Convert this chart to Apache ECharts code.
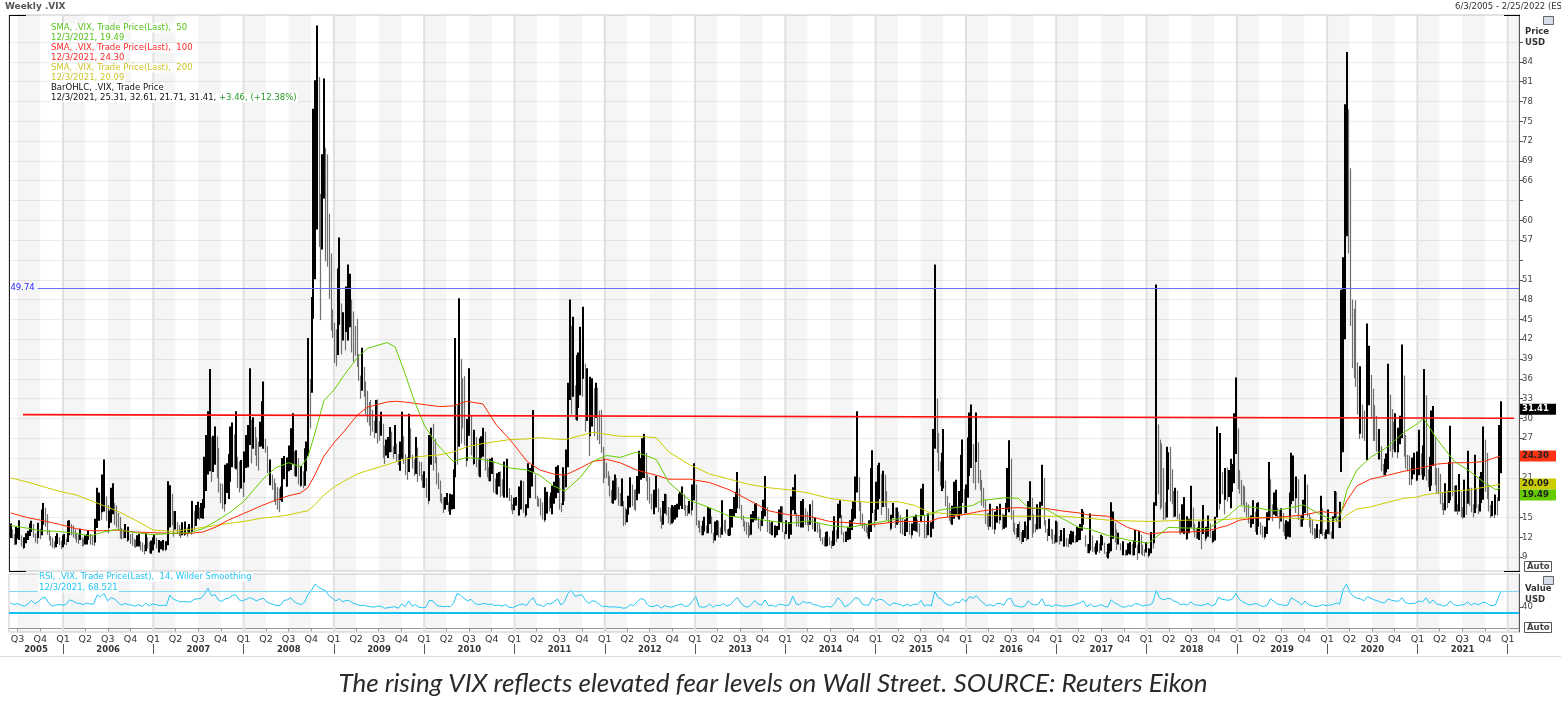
<!DOCTYPE html>
<html>
<head>
<meta charset="utf-8">
<title>Weekly .VIX</title>
<script src="https://cdn.jsdelivr.net/npm/echarts@6/dist/echarts.min.js"></script>
<style>
  html, body { margin: 0; padding: 0; background: #fff; }
  #chart { width: 1561px; height: 702px; }
</style>
</head>
<body>
<div id="chart"></div>
<script>
// weekly bars, one per Friday starting 6/3/2005
const firstWeek = [2005, 5, 3];

const weekHighs = [
  // 2005
  14.1,13.2,12.5,13.6,13.4,14.6,12.3,11.5,12.0,12.6,13.0,14.1,14.5,14.0,12.6,12.5,14.2,13.3,16.2,17.2,16.5,15.5,13.1,12.2,11.9,11.4,12.2,12.6,12.0,11.5,12.3,
  // 2006
  12.5,11.8,14.5,14.6, 14.0,13.8,13.2,12.6, 12.5,13.3,12.0,11.8,12.3, 12.5,13.1,12.5,12.3, 12.3,14.8,19.5,18.8, 18.6,21.5,23.8,18.2,16.9, 16.1,19.5,20.2,17.2, 16.8,15.7,15.1,13.4, 13.2,14.0,13.1,13.6,12.5, 12.6,11.8,11.6,12.3, 12.5,11.4,11.2,10.9, 12.6,12.0,11.3,11.5,12.0,
  // 2007
  12.4,11.9,11.0,11.6, 11.4,11.6,11.4,11.4, 20.5,19.9,18.6,16.0,16.0, 14.3,13.9,13.3,14.3, 13.8,14.4,13.5,14.0, 13.9,17.5,16.0,16.9,17.4, 16.5,17.2,17.8,24.2, 27.5,31.1,37.5,27.2,27.4, 28.8,27.3,25.5,20.2, 20.1,19.7,23.0,23.2, 24.6,28.8,29.4,27.6,31.1, 24.2,23.5,23.7,21.4,
  // 2008
  25.0,27.5,29.0,37.6, 29.8,30.2,28.7,27.1,26.5, 29.5,32.6,35.6,26.9, 25.8,23.2,23.8,21.5, 20.9,20.2,19.6,19.4,19.7, 24.0,24.3,22.6,24.1, 25.9,28.5,30.8,25.0, 25.2,24.0,21.8,22.8,22.0, 25.5,26.5,42.2,36.0, 48.4,76.9,81.2,89.5,81.7, 64.0,70.0,81.5,71.0, 70.0,61.0,55.0,46.5,
  // 2009
  44.5,43.5,52.7,57.4,47.4, 46.1,46.5,50.0,53.3, 51.9,48.0,46.2,44.0, 45.1,39.8,36.5,40.7, 37.8,35.6,34.2,32.5,32.8, 31.3,29.7,32.8,32.9, 29.6,31.0,29.2,25.9,26.8, 27.2,28.7,28.0,25.8, 29.0,26.2,24.6,26.5, 31.0,27.3,24.6,24.2,30.7, 28.5,24.5,23.8,27.2, 25.6,23.5,23.4,21.5,
  // 2010
  22.0,21.0,18.7,27.5,28.6, 29.2,26.9,24.2,21.8, 20.6,18.6,18.0,18.1, 18.7,17.3,18.6,18.5,22.3, 42.2,32.0,48.2,39.0, 36.1,36.4,27.1,29.9, 37.6,30.5,27.8,28.3,27.2, 24.1,27.0,27.3,28.6, 28.0,23.9,22.6,23.9, 24.1,23.5,20.9,21.7,21.9, 22.0,20.8,23.5,22.6, 23.9,19.5,18.4,17.0,18.0,
  // 2011
  18.1,17.6,19.7,20.6, 20.5,16.4,17.0,23.2, 22.5,23.0,31.3,21.5, 18.3,17.9,17.9,17.3,15.9, 19.6,18.9,18.2,18.8, 19.8,20.4,22.7,22.9, 21.0,17.2,22.6,21.6,25.3, 35.4,48.0,44.0,45.4, 35.0,39.6,40.0,43.9,42.5, 46.9,38.3,37.6,35.1, 36.3,36.1,34.6,35.4, 34.7,31.2,31.3,25.7,24.0,
  // 2012
  23.3,22.0,21.3,19.2, 20.6,21.5,21.0,19.6, 18.7,20.9,17.5,16.5,16.2, 18.3,21.1,20.0,19.2, 19.3,21.3,25.1,24.0, 27.0,27.7,24.8,21.6,21.1, 18.6,18.4,19.2,21.3, 19.4,16.5,15.2,17.5,18.6, 18.5,16.6,16.5,16.9, 16.7,16.9,17.1,18.6, 18.9,19.7,18.5,16.9,16.8, 17.5,17.4,20.0,23.2,
  // 2013
  20.0,14.6,14.5,13.7, 14.5,15.1,13.8,16.6, 16.4,15.2,12.7,14.4,14.6, 14.5,13.5,17.6,14.6, 14.7,13.2,13.3,16.3,16.3, 18.1,18.9,21.9,19.4, 16.9,15.3,14.5,14.3, 14.3,13.8,15.5,16.0,17.1, 17.2,15.1,14.7,16.0, 17.7,21.3,16.6,14.6, 14.2,14.4,13.8,13.8,13.7, 16.2,16.7,16.7,12.9,
  // 2014
  14.6,13.8,14.3,18.2,19.6, 21.5,15.7,15.4,15.3, 17.5,17.8,16.4,15.9, 14.5,17.0,17.6,14.5, 15.0,14.3,14.1,13.3,12.0, 12.1,12.8,12.9,12.1, 11.5,13.0,15.2,13.1, 17.1,17.6,15.4,12.8,12.4, 12.9,13.6,14.6,16.3, 17.5,21.2,31.1,21.1,17.4, 15.6,14.2,14.0,13.6, 14.6,22.5,25.2,16.2,
  // 2015
  20.4,22.9,23.3,21.6,22.1, 21.5,19.0,16.4,14.6, 15.4,17.2,16.5,16.5, 15.9,15.4,14.9,13.7, 14.7,16.2,14.2,13.3,14.1, 15.2,15.4,14.7,14.1, 19.4,20.1,15.4,14.0,15.6, 14.0,14.3,28.4,53.3, 33.0,27.8,23.5,24.8, 28.4,20.6,18.3,17.2,16.0, 16.8,20.4,20.7,16.7, 19.0,24.5,26.8,19.3,
  // 2016
  20.0,27.1,30.9,32.1,26.1, 25.2,30.9,26.4,22.2, 20.7,19.5,17.7,15.7, 15.7,17.1,16.4,13.9,15.9, 16.7,16.3,17.1,15.6, 15.4,17.2,22.5,26.7, 23.9,16.1,14.2,13.4,14.0, 14.4,12.8,13.1,14.4, 13.8,17.5,20.5,18.0,15.5, 14.0,17.0,16.3,17.4, 23.0,21.0,14.6,13.3, 14.8,13.3,13.2,12.4,14.5,
  // 2017
  14.3,12.2,13.1,12.4, 13.4,11.9,11.8,12.5, 13.0,12.9,12.3,13.6,13.4, 14.0,16.3,15.9,12.3, 11.0,11.0,15.6,12.3, 10.6,11.1,11.5,11.1,12.4, 12.2,11.2,9.8,11.0, 11.1,17.3,15.9,14.2, 13.2,12.7,11.1,10.6,11.4, 10.1,10.1,11.1,11.3, 11.0,11.6,13.1,10.9, 13.0,12.4,10.9,10.2,11.3,
  // 2018
  10.4,10.3,12.8,11.6, 17.3,50.3,29.1,26.8, 26.2,22.5,17.3,25.7,24.9, 25.7,22.3,19.0,19.5, 19.1,15.6,14.6,17.0, 18.1,13.8,15.2,14.8,19.8, 16.5,14.1,13.3,13.5, 14.4,14.4,16.9,13.3,13.6, 15.3,14.1,12.9,13.0, 15.1,28.8,22.5,27.8, 21.9,20.3,22.5,22.6,22.2, 23.9,23.1,30.8,36.2,
  // 2019
  28.5,22.2,20.7,19.9, 19.7,17.3,17.0,15.0, 15.3,17.6,15.9,17.2,17.3, 14.3,13.8,12.8,13.6, 15.8,23.4,20.8,17.0,18.8, 19.2,16.5,16.1,16.4, 15.7,14.1,14.6,14.4, 18.8,24.8,24.4,20.9,21.2, 20.8,15.3,15.3,17.7, 21.5,20.0,15.5,15.0, 14.7,13.4,13.3,14.0,13.2, 18.3,16.4,12.8,13.2,
  // 2020
  16.2,14.6,12.9,15.2,19.0, 18.9,15.2,17.4,49.5, 54.4,77.6,85.5,76.8, 67.9,48.0,46.6,47.9, 38.5,37.2,37.9,32.1,31.2, 29.5,44.4,41.0,36.6, 34.5,32.0,30.4,27.6,28.4, 25.8,23.1,23.9,24.7, 38.3,33.6,31.4,29.5, 30.8,27.9,28.6,30.4,41.2, 36.5,27.5,24.5,24.4, 22.9,24.1,24.8,24.4,
  // 2021
  25.0,28.3,24.7,25.9,37.5, 33.5,22.3,24.2,31.2, 31.9,27.2,22.5,22.5, 21.6,18.8,17.2,20.2,19.1, 23.4,28.9,23.3,19.8, 19.9,17.0,21.6,18.9, 16.6,20.7,19.1,25.1,19.5, 19.5,17.0,24.5,19.4, 17.0,21.2,21.9,28.8, 26.8,24.8,20.0,16.9,17.5, 17.1,18.5,18.1,29.0, 32.61
];

const weekLows = [
  // 2005
  11.9,11.8,10.8,10.9,11.8,11.6,10.6,10.2,10.4,11.1,11.6,12.2,12.8,12.0,11.2,11.0,11.9,11.7,12.3,13.9,13.6,12.4,11.5,10.7,10.4,10.3,10.5,11.0,10.8,10.2,10.5,
  // 2006
  10.9,10.8,11.3,12.3, 12.3,12.0,11.7,11.2, 11.0,11.6,10.6,10.7,10.9, 10.9,11.6,10.9,10.8, 10.7,11.2,13.4,14.5, 14.6,15.8,15.9,14.5,12.6, 13.4,14.2,15.5,13.9, 13.5,13.2,11.8,11.7, 11.8,11.9,11.3,11.5,11.0, 10.7,10.5,10.4,10.6, 10.6,10.0,9.8,9.4, 9.9,10.3,9.6,9.5,10.0,
  // 2007
  10.9,10.3,9.8,9.7, 10.2,10.0,9.9,10.1, 10.8,13.5,13.8,12.1,13.2, 12.6,12.2,11.9,12.3, 12.2,12.4,12.1,12.6, 12.4,12.8,13.1,13.7,14.8, 14.6,14.9,14.8,16.4, 19.0,21.5,22.0,20.4,21.9, 23.0,21.0,18.8,17.2, 16.3,15.9,17.0,18.7, 17.8,20.4,22.6,22.5,22.3, 19.5,18.8,19.4,18.1,
  // 2008
  20.3,22.5,22.6,26.0, 23.2,25.4,24.4,22.8,22.1, 25.7,25.8,25.4,24.8, 21.7,20.4,19.9,19.2, 17.4,16.9,16.2,15.8,17.6, 17.4,20.8,19.6,19.7, 22.0,22.2,23.1,21.3, 21.2,20.0,19.6,19.8,19.4, 19.8,22.0,24.3,28.5, 33.9,45.1,51.1,58.6,56.0, 44.9,55.6,63.3,53.8, 53.0,48.1,43.3,42.2,
  // 2009
  38.4,37.9,39.6,44.2,39.7, 41.8,40.3,43.1,41.8, 43.8,40.0,38.6,39.5, 37.8,35.7,33.0,34.2, 33.3,30.6,29.4,28.9,27.4, 28.0,27.0,27.8,26.2, 26.6,27.4,24.0,23.1,24.4, 24.0,24.9,24.9,23.9, 24.6,23.5,22.9,22.1, 23.9,23.1,21.4,20.7,21.9, 23.9,22.4,21.3,21.6, 20.4,21.3,20.6,19.5,
  // 2010
  19.5,18.0,17.0,17.5,23.0, 22.1,23.2,20.0,19.3, 17.4,17.1,15.7,16.2, 16.9,15.9,15.4,16.2,16.3, 21.1,23.0,25.7,26.2, 28.5,25.9,22.7,23.6, 27.4,24.4,22.9,23.1,22.6, 21.3,21.1,24.0,24.2, 22.1,21.1,20.5,20.5, 21.6,18.8,18.6,18.5,19.7, 18.1,18.3,18.0,18.7, 18.0,17.5,16.1,15.5,16.1,
  // 2011
  16.8,15.3,15.3,16.2, 15.7,15.0,15.3,16.4, 17.9,19.7,21.9,17.8, 16.7,16.6,15.3,14.7,14.3, 14.6,15.6,15.9,16.4, 15.5,17.1,17.9,18.7, 16.2,15.8,16.9,17.5,19.6, 22.6,32.8,30.6,33.3, 29.8,29.7,31.6,33.5,33.3, 36.0,28.0,29.6,24.3, 27.3,28.8,27.3,30.1, 26.7,26.1,24.8,20.2,20.9,
  // 2012
  21.0,19.8,18.2,17.2, 17.1,17.6,17.8,16.8, 16.7,16.7,13.7,13.9,14.3, 15.4,16.5,16.7,16.2, 16.0,17.6,18.6,20.7, 21.0,21.0,20.5,17.6,17.1, 16.2,16.3,15.5,16.5, 15.8,14.4,13.3,13.9,15.6, 15.3,14.1,13.9,14.1, 14.3,14.7,15.0,16.2, 16.8,16.3,16.1,15.2,15.2, 15.6,15.3,16.1,17.6,
  // 2013
  13.8,13.4,12.7,12.3, 12.3,12.9,12.6,12.6, 14.0,12.6,11.1,11.5,12.3, 12.0,11.9,12.4,12.9, 12.6,12.3,12.2,12.3,13.5, 15.2,15.7,16.4,16.3, 14.6,13.6,12.9,12.4, 11.9,12.2,12.4,14.3,14.6, 14.6,13.3,12.9,13.7, 14.8,15.2,12.8,12.5, 12.5,12.3,11.9,12.0,12.3, 13.1,14.3,12.8,11.7,
  // 2014
  12.5,12.1,11.8,12.4,16.1, 15.5,13.6,13.6,13.6, 13.5,13.5,13.9,13.8, 12.9,13.9,13.2,12.9, 12.9,12.7,11.9,11.4,10.9, 10.6,10.6,10.7,10.8, 10.3,10.7,10.8,11.3, 11.8,14.9,12.4,11.2,11.4, 11.3,11.6,11.7,13.1, 14.5,14.8,18.8,16.0,13.9, 13.3,12.9,12.7,12.1, 11.8,12.8,15.7,13.5,
  // 2015
  14.5,16.2,17.8,15.4,16.6, 16.6,14.6,14.2,13.0, 13.3,14.9,13.4,13.9, 14.1,12.6,12.4,12.2, 12.2,12.8,12.4,11.8,12.3, 13.0,12.9,12.7,12.1, 14.3,15.3,11.8,11.9,12.3, 12.1,12.0,13.3,25.4, 24.8,22.0,19.8,19.0, 19.4,16.7,15.0,14.5,14.1, 13.9,14.8,15.4,15.0, 14.7,15.5,17.2,15.5,
  // 2016
  15.7,18.0,21.3,22.5,20.2, 19.2,23.4,20.2,19.1, 16.8,16.5,14.0,13.6, 13.1,13.6,13.2,12.5,13.2, 14.2,14.0,14.6,13.1, 13.3,13.5,16.2,15.8, 14.7,12.8,12.4,11.8,12.0, 11.5,11.0,11.3,11.9, 11.5,11.7,14.6,12.0,12.6, 12.8,13.2,13.3,13.3, 16.8,13.8,12.7,11.4, 12.2,11.7,11.0,11.0,11.2,
  // 2017
  11.3,10.9,11.4,10.6, 10.6,10.6,10.5,11.0, 10.9,11.2,11.1,11.3,11.5, 11.6,13.0,13.9,10.6, 9.6,9.6,10.0,9.8, 9.7,9.4,9.8,9.6,10.0, 10.8,9.5,9.0,8.8, 9.6,9.9,11.8,11.2, 10.1,10.9,10.0,9.4,9.3, 9.2,9.3,9.5,9.4, 9.2,9.3,10.4,8.6, 9.6,9.4,9.2,9.1,9.7,
  // 2018
  8.9,9.2,9.6,10.3, 11.1,16.8,18.5,16.2, 16.5,14.6,14.7,15.0,19.2, 17.4,17.0,15.0,15.1, 14.7,12.6,12.4,12.7, 12.5,11.6,11.7,12.6,13.5, 13.0,12.0,11.8,11.8, 11.6,10.2,12.5,11.4,11.8, 12.1,11.9,11.1,11.3, 11.5,15.0,16.2,17.1, 18.5,15.5,17.7,17.4,18.1, 16.4,18.9,20.2,24.6,
  // 2019
  19.3,18.6,16.9,16.9, 15.8,15.1,14.1,13.5, 13.5,14.0,12.8,12.4,13.6, 12.4,12.0,11.7,12.0, 12.5,14.6,15.0,14.4,15.4, 15.2,14.9,13.3,14.4, 12.8,12.2,11.7,12.1, 12.0,17.0,17.5,15.7,17.9, 14.6,13.6,13.6,14.6, 15.7,15.1,13.5,12.6, 12.3,11.8,11.7,11.9,11.8, 12.5,12.2,11.7,11.8,
  // 2020
  12.5,12.4,11.8,11.8,14.9, 14.3,13.4,13.4,21.9, 24.9,42.0,57.6,55.0, 44.0,37.6,36.1,34.8, 30.6,26.9,27.7,27.0,26.6, 24.5,23.7,32.0,30.0, 26.6,26.6,25.0,23.9,23.8, 22.0,21.4,21.4,21.8, 22.3,25.0,24.1,25.3, 24.9,24.0,24.9,26.1,27.0, 24.2,22.4,22.0,19.9, 19.9,20.8,21.5,20.5,
  // 2021
  20.6,21.4,21.4,20.7,21.2, 20.6,19.6,19.0,19.8, 22.8,19.9,18.6,18.5, 17.0,16.1,15.4,16.1,16.4, 17.2,17.6,18.2,15.9, 15.9,15.4,15.9,15.1, 14.8,15.0,15.4,17.1,16.8, 15.8,15.0,15.7,16.4, 15.5,15.9,17.2,17.7, 18.9,17.8,15.9,14.9,15.2, 14.9,15.4,15.3,17.5, 21.71
];

// moving averages at sample dates (decimal years)
const smaYears = [
  2005.42,2005.60,2005.75,2005.95,2006.15,2006.30,2006.45,2006.60,2006.80,2007.00,2007.20,2007.40,2007.55,2007.70,2007.83,
  2008.00,2008.20,2008.35,2008.50,2008.63,2008.71,2008.78,2008.89,2009.00,2009.11,2009.26,2009.37,2009.59,2009.68,2009.78,2009.89,
  2010.00,2010.11,2010.17,2010.32,2010.47,2010.65,2010.80,2010.95,2011.14,2011.28,2011.43,2011.56,2011.73,2011.87,
  2012.02,2012.17,2012.35,2012.57,2012.71,2012.94,2013.16,2013.38,2013.60,2013.82,2014.04,2014.26,2014.49,2014.71,2014.96,
  2015.25,2015.44,2015.60,2015.70,2015.88,2016.07,2016.18,2016.44,2016.58,2016.69,2016.88,2017.06,2017.25,2017.35,2017.57,2017.79,
  2018.02,2018.24,2018.46,2018.68,2018.90,2019.03,2019.20,2019.42,2019.60,2019.74,2019.93,2020.08,2020.15,2020.22,2020.33,2020.48,
  2020.67,2020.85,2021.00,2021.07,2021.22,2021.41,2021.59,2021.74,2021.87,2021.92
];
const sma50 = [
  13.8,13.4,13.0,12.9,12.6,12.2,12.8,13.2,12.7,12.4,12.6,12.7,13.3,14.5,15.6,
  17.4,20.6,22.5,23.3,22.7,24.1,27.3,32.7,34.3,36.5,39.2,40.6,41.5,40.8,37.1,32.7,
  29.0,26.7,25.7,23.5,24.1,23.8,23.3,22.5,22.2,21.4,19.8,19.0,21.1,23.5,
  24.4,24.1,24.9,23.8,20.3,17.6,16.5,15.2,14.9,14.5,14.1,14.5,13.8,13.5,14.1,
  14.8,15.2,15.4,16.1,16.5,16.8,17.6,18.0,17.9,16.5,16.3,14.9,13.5,13.3,12.3,11.6,
  11.1,13.5,13.4,13.3,15.2,16.8,16.5,16.0,16.5,16.9,15.4,14.6,15.4,19.2,22.2,24.1,
  25.7,27.9,29.2,30.0,26.8,23.5,21.9,20.3,19.2,19.49
];
const sma100 = [
  15.7,15.0,14.6,14.0,13.3,13.0,13.0,13.1,12.8,12.7,12.6,12.6,12.8,13.6,14.6,
  15.6,16.8,17.6,18.3,18.7,19.5,21.2,24.3,26.3,28.0,30.5,31.7,32.5,32.6,32.5,32.3,
  32.1,31.9,31.8,31.9,32.6,32.2,29.0,26.8,23.5,22.2,21.6,21.4,22.5,23.5,
  23.8,23.3,22.2,21.4,20.8,20.8,20.3,19.2,17.6,16.0,15.4,15.2,14.4,14.2,13.9,
  14.4,14.4,14.4,14.9,15.2,15.7,16.0,16.4,16.5,16.4,16.4,16.0,15.7,15.4,15.2,13.5,
  12.5,12.8,12.8,13.0,13.8,14.6,14.9,15.0,15.2,15.4,15.9,15.7,15.7,17.6,19.8,20.8,
  21.4,22.0,22.4,22.6,23.1,23.3,23.3,23.5,24.1,24.30
];
const sma200 = [
  21.0,20.4,19.8,19.0,18.4,17.6,16.8,16.0,14.6,13.1,12.9,13.2,13.5,13.8,14.1,
  14.4,14.9,15.1,15.4,15.8,16.0,16.8,18.4,19.6,20.5,21.6,22.1,23.0,23.4,23.8,24.1,
  24.3,24.4,24.5,24.9,25.7,26.2,26.5,26.8,26.9,27.1,26.9,26.8,27.4,27.9,
  27.6,27.3,27.3,27.1,24.9,23.0,21.6,20.8,20.0,19.5,19.2,18.7,17.9,17.5,17.3,
  17.4,16.8,15.7,15.7,15.4,15.5,15.4,15.2,15.2,15.2,15.2,15.2,15.0,14.9,14.6,14.5,
  14.4,14.5,14.6,14.6,14.7,14.9,15.0,15.0,14.9,14.8,14.5,14.4,14.5,15.4,16.3,16.6,
  17.3,17.9,18.1,18.4,18.7,19.0,19.2,19.6,19.9,20.09
];

// RSI(14, Wilder) read every second week from the first bar, plus the last bar
const rsiValues = [
  48,45,47,44,42,46,53,47,50,57,59,48,42,44,45,44,
  45,54,52,48,47,45,48,46,46,63,60,66,52,58,56,49,44,47,45,44,42,45,41,48,43,46,
  45,43,44,43,63,55,53,50,51,50,50,55,56,57,65,76,62,64,54,51,56,57,62,64,54,52,
  55,58,56,52,55,57,50,47,45,43,44,53,54,58,50,47,45,50,65,73,84,78,74,72,62,57,
  52,56,50,53,52,47,46,43,44,42,41,40,42,42,38,39,40,41,38,46,41,52,42,45,40,39,
  40,53,52,44,42,41,42,41,48,66,63,57,52,55,48,45,46,47,45,46,43,44,42,45,40,39,
  42,45,46,43,52,58,45,44,41,47,46,50,56,44,50,66,72,61,62,64,54,47,52,51,46,41,
  42,40,41,40,40,38,39,45,43,50,56,55,45,41,42,44,38,43,41,40,42,45,46,41,43,52,
  60,41,40,41,46,40,44,43,47,42,45,52,59,48,42,40,45,53,46,44,54,43,44,41,46,45,
  43,45,61,46,45,51,48,49,45,44,41,40,42,40,46,58,52,41,44,50,58,57,46,44,44,58,
  52,55,54,48,43,48,47,45,42,46,42,46,45,53,42,45,42,70,58,55,47,44,44,50,48,56,
  50,60,57,62,54,48,43,45,42,47,47,44,55,57,43,42,40,42,52,46,44,46,56,43,44,41,45,
  43,42,42,43,44,46,48,52,41,46,41,42,45,42,40,54,48,45,41,40,43,42,47,46,42,44,
  44,48,72,58,54,56,57,52,50,45,46,44,50,45,44,43,45,47,43,45,59,55,54,53,56,66,
  55,50,47,44,46,47,43,41,44,56,51,46,45,43,44,58,54,50,44,52,45,43,41,42,45,43,
  44,45,48,46,74,84,68,60,57,56,52,60,57,54,52,49,48,56,53,52,51,58,49,47,47,48,
  52,50,58,47,54,46,45,42,44,52,45,43,44,45,50,44,48,44,48,50,45,43,44,60
];
const rsiLast = 68.521;

// last values shown in the legend and on the price axis
const markerNames = ['close', 'sma100', 'sma200', 'sma50'];
const markerValues = [31.41, 24.30, 20.09, 19.49];

// drawn levels
const levelLine = 49.74;
const levelFrom = 2005.72;
const trendFrom = [2005.557, 30.58];
const trendTo = [2022.07, 30.03];

// axes
const priceTicks = [9,12,15,18,21,24,27,30,33,36,39,42,45,48,51,54,57,60,63,66,69,72,75,78,81,84,87];
const priceLabels = [9,12,15,18,21,27,30,33,36,39,42,45,48,51,57,60,66,69,72,75,78,81,84];
const years = [2005,2006,2007,2008,2009,2010,2011,2012,2013,2014,2015,2016,2017,2018,2019,2020,2021,2022];
const quarterMonths = [0, 3, 6, 9];
const xMin = 2005.402, xMax = 2022.125;

if (weekHighs.length !== weekLows.length) throw new Error('bars: ' + weekHighs.length + ' vs ' + weekLows.length);

const DAY = 86400000;
const startMs = Date.UTC(firstWeek[0], firstWeek[1], firstWeek[2]);
function yearFrac(ms) {
  const y = new Date(ms).getUTCFullYear();
  const a = Date.UTC(y, 0, 1), b = Date.UTC(y + 1, 0, 1);
  return y + (ms - a) / (b - a);
}
const weekX = (i) => yearFrac(startMs + i * 7 * DAY);

const barData = weekHighs.map((h, i) => {
  const lo = weekLows[i];
  const prev = i ? weekHighs[i - 1] + weekLows[i - 1] : h + lo;
  return [weekX(i), lo, h, h + lo >= prev ? 1 : 0];
});
const rsiData = rsiValues.map((v, k) => [weekX(k * 2), v]);
rsiData.push([weekX(weekHighs.length - 1), rsiLast]);

const bands = [];
years.forEach((y) => {
  bands.push([yearFrac(Date.UTC(y, 0, 1)), yearFrac(Date.UTC(y, 3, 1))]);
  bands.push([yearFrac(Date.UTC(y, 6, 1)), yearFrac(Date.UTC(y, 9, 1))]);
});
const yearStarts = years.slice(1).map((y) => [y]);
const quarterTicks = [];
years.forEach((y) => quarterMonths.forEach((m) => {
  const v = yearFrac(Date.UTC(y, m, 1));
  if (v > xMin && v <= 2022.0001) quarterTicks.push(v);
}));
const yearLabelPos = years.slice(0, -1).map((y) => (y === 2005 ? (xMin + 2006) / 2 : y + 0.5));

const FONT = 'DejaVu Sans';
const bandRender = (params, api) => {
  const cs = params.coordSys;
  const a = Math.max(api.coord([api.value(0), 50])[0], cs.x);
  const b = Math.min(api.coord([api.value(1), 50])[0], cs.x + cs.width);
  if (b <= a) return null;
  return { type: 'rect', shape: { x: a, y: cs.y, width: b - a, height: cs.height }, style: { fill: 'rgba(0,0,0,0.04)' } };
};
const yearLineRender = (params, api) => {
  const cs = params.coordSys;
  const x = api.coord([api.value(0), 50])[0];
  return { type: 'rect', shape: { x: x - 1, y: cs.y, width: 2, height: cs.height }, style: { fill: '#e0e0e0' } };
};
// up weeks are drawn as heavy black bars, down weeks as thin grey ones
const barRender = (params, api) => {
  const x = api.value(0);
  const top = api.coord([x, api.value(2)]);
  const bot = api.coord([x, api.value(1)]);
  const up = api.value(3);
  const px = up ? Math.round(top[0]) : Math.round(top[0]) + 0.5;
  return {
    type: 'line',
    shape: { x1: px, y1: top[1], x2: px, y2: bot[1] },
    style: { stroke: up ? '#000' : '#6e6e6e', lineWidth: up ? 2 : 1.2 }
  };
};
const smaLine = (name, values, color) => ({
  name, type: 'line', xAxisIndex: 0, yAxisIndex: 0, z: 4,
  data: smaYears.map((x, i) => [x, values[i]]),
  showSymbol: false, symbol: 'none', silent: true,
  lineStyle: { color, width: 1 }
});

const chart = echarts.init(document.getElementById('chart'));
const option = {
  animation: false,
  textStyle: { fontFamily: FONT },
  grid: [
    { left: 9, right: 42, top: 15, height: 556, show: true, borderColor: '#c8c8c8', borderWidth: 1 },
    { left: 9, right: 42, top: 574, height: 58, show: true, borderColor: '#c8c8c8', borderWidth: 1 }
  ],
  xAxis: [
    { gridIndex: 0, type: 'value', min: xMin, max: xMax, show: false },
    {
      gridIndex: 1, type: 'value', min: xMin, max: xMax,
      axisLine: { show: true, lineStyle: { color: '#999' } },
      axisTick: { show: true, length: 3, customValues: quarterTicks, lineStyle: { color: '#999' } },
      axisLabel: {
        customValues: quarterTicks, margin: 3, color: '#333', fontSize: 9.5, fontFamily: FONT,
        formatter: (v) => 'Q' + ((Math.round((v - Math.floor(v + 1e-6)) * 4) % 4) + 1)
      },
      splitLine: { show: false }
    },
    {
      gridIndex: 1, type: 'value', min: xMin, max: xMax, position: 'bottom', offset: 12,
      axisLine: { show: false },
      axisTick: { show: true, length: 10, customValues: years.slice(1), lineStyle: { color: '#555' } },
      axisLabel: {
        customValues: yearLabelPos, margin: 1, color: '#333', fontSize: 8.5, fontWeight: 'bold', fontFamily: FONT,
        formatter: (v) => String(Math.floor(v))
      },
      splitLine: { show: false }
    }
  ],
  yAxis: [
    {
      gridIndex: 0, type: 'value', position: 'right', min: 6.9, max: 91.1,
      axisLine: { show: true, lineStyle: { color: '#555' } },
      axisTick: { show: true, length: 4, customValues: priceTicks, lineStyle: { color: '#555' } },
      axisLabel: { customValues: priceLabels, margin: 3, color: '#444', fontSize: 8.5, fontFamily: FONT },
      splitLine: { show: true, lineStyle: { color: '#ececec', width: 1 } }
    },
    {
      gridIndex: 1, type: 'value', position: 'right', min: -7, max: 103,
      axisLine: { show: true, lineStyle: { color: '#555' } },
      axisTick: { show: true, length: 4, customValues: [40], lineStyle: { color: '#555' } },
      axisLabel: { customValues: [40], margin: 3, color: '#444', fontSize: 8.5, fontFamily: FONT },
      splitLine: { show: false }
    }
  ],
  series: [
    { type: 'custom', xAxisIndex: 0, yAxisIndex: 0, z: 1, silent: true, data: bands, encode: { x: [0, 1] }, renderItem: bandRender },
    { type: 'custom', xAxisIndex: 0, yAxisIndex: 0, z: 1, silent: true, data: yearStarts, encode: { x: 0 }, renderItem: yearLineRender },
    { type: 'custom', xAxisIndex: 1, yAxisIndex: 1, z: 1, silent: true, data: bands, encode: { x: [0, 1] }, renderItem: bandRender },
    { type: 'custom', xAxisIndex: 1, yAxisIndex: 1, z: 1, silent: true, data: yearStarts, encode: { x: 0 }, renderItem: yearLineRender },
    {
      name: 'BarOHLC', type: 'custom', xAxisIndex: 0, yAxisIndex: 0, z: 3, silent: true,
      data: barData, encode: { x: 0, y: [1, 2] }, renderItem: barRender
    },
    Object.assign(smaLine('SMA 200', sma200, '#cccc00'), {
      markLine: {
        silent: true, symbol: ['none', 'none'], animation: false,
        data: [
          [
            { coord: [levelFrom, levelLine], lineStyle: { color: '#6a6aff', width: 1, type: 'solid' },
              label: { show: true, position: 'start', distance: 3, formatter: levelLine.toFixed(2), color: '#2a2aff', fontSize: 8.5, fontFamily: FONT } },
            { coord: [xMax, levelLine] }
          ],
          [
            { coord: trendFrom, lineStyle: { color: '#ff1010', width: 1.6, type: 'solid' }, label: { show: false } },
            { coord: trendTo }
          ]
        ]
      }
    }),
    smaLine('SMA 100', sma100, '#ff2a00'),
    smaLine('SMA 50', sma50, '#66cc00'),
    {
      name: 'RSI', type: 'line', xAxisIndex: 1, yAxisIndex: 1, z: 4, data: rsiData,
      showSymbol: false, symbol: 'none', silent: true,
      lineStyle: { color: '#22c4f4', width: 1 },
      markLine: {
        silent: true, symbol: ['none', 'none'], animation: false, label: { show: false },
        data: [
          { yAxis: 70, lineStyle: { color: '#7fd8f6', width: 1, type: 'solid' } },
          { yAxis: 30, lineStyle: { color: '#10c0f0', width: 2, type: 'solid' } }
        ]
      }
    }
  ]
};
chart.setOption(option);

// texts and on-axis value tags
const txt = (x, y, text, fill, font, extra) => Object.assign({
  type: 'text', x, y, silent: true, z: 100,
  style: Object.assign({ text, fill, font: font || ('8.5px ' + FONT), verticalAlign: 'middle', align: 'left' }, extra || {})
});
const legendBg = { backgroundColor: '#fff', padding: [0, 1] };
const graphics = [
  txt(5, 7, 'Weekly .VIX', '#555', 'bold 9px ' + FONT),
  txt(1455, 7, '6/3/2005 - 2/25/2022 (EST)', '#333'),
  { type: 'line', silent: true, z: 90, shape: { x1: 9.5, y1: 15, x2: 9.5, y2: 571 }, style: { stroke: '#222', lineWidth: 1 } },
  { type: 'line', silent: true, z: 90, shape: { x1: 9, y1: 15.5, x2: 26, y2: 15.5 }, style: { stroke: '#000', lineWidth: 1 } },
  { type: 'line', silent: true, z: 90, shape: { x1: 1504, y1: 15.5, x2: 1520, y2: 15.5 }, style: { stroke: '#000', lineWidth: 1 } },
  { type: 'line', silent: true, z: 90, shape: { x1: 9, y1: 571.5, x2: 26, y2: 571.5 }, style: { stroke: '#000', lineWidth: 1 } },
  { type: 'line', silent: true, z: 90, shape: { x1: 1504, y1: 571.5, x2: 1520, y2: 571.5 }, style: { stroke: '#000', lineWidth: 1 } },
  { type: 'line', silent: true, z: 90, shape: { x1: 0, y1: 656.5, x2: 1561, y2: 656.5 }, style: { stroke: '#dcdcdc', lineWidth: 1 } },
  txt(50, 28, 'SMA, .VIX, Trade Price(Last),  50', '#55c21b', null, legendBg),
  txt(50, 38, '12/3/2021, ' + markerValues[3].toFixed(2), '#55c21b', null, legendBg),
  txt(50, 48, 'SMA, .VIX, Trade Price(Last),  100', '#ff2a2a', null, legendBg),
  txt(50, 58, '12/3/2021, ' + markerValues[1].toFixed(2), '#ff2a2a', null, legendBg),
  txt(50, 68, 'SMA, .VIX, Trade Price(Last),  200', '#cfc52a', null, legendBg),
  txt(50, 78, '12/3/2021, ' + markerValues[2].toFixed(2), '#cfc52a', null, legendBg),
  txt(50, 88, 'BarOHLC, .VIX, Trade Price', '#111', null, legendBg),
  txt(50, 98, '{a|12/3/2021, 25.31, 32.61, 21.71, ' + markerValues[0].toFixed(2) + ', }{b|+3.46, (+12.38%)}', '#111', null,
    Object.assign({ rich: { a: { fill: '#111', font: '8.5px ' + FONT }, b: { fill: '#2a9a2a', font: '8.5px ' + FONT } } }, legendBg)),
  txt(38, 577, 'RSI, .VIX, Trade Price(Last),  14, Wilder Smoothing', '#22c4f4', null, legendBg),
  txt(38, 588, '12/3/2021, ' + rsiLast.toFixed(3), '#22c4f4', null, legendBg),
  txt(1525, 32, 'Price', '#333', 'bold 8.5px ' + FONT),
  txt(1525, 43, 'USD', '#333', 'bold 8.5px ' + FONT),
  txt(1525, 589, 'Value', '#333', 'bold 8.5px ' + FONT),
  txt(1525, 600, 'USD', '#333', 'bold 8.5px ' + FONT),
  { type: 'rect', silent: true, z: 95, shape: { x: 1543.5, y: 16.5, width: 10, height: 8 }, style: { fill: '#d6dcea', stroke: '#666', lineWidth: 1 } },
  { type: 'rect', silent: true, z: 95, shape: { x: 1543.5, y: 576.5, width: 10, height: 8 }, style: { fill: '#d6dcea', stroke: '#666', lineWidth: 1 } },
  { type: 'rect', silent: true, z: 95, shape: { x: 1524.5, y: 561.5, width: 27, height: 10 }, style: { fill: '#fff', stroke: '#555', lineWidth: 1 } },
  txt(1527, 567, 'Auto', '#444', 'bold 8.5px ' + FONT),
  { type: 'rect', silent: true, z: 95, shape: { x: 1524.5, y: 622.5, width: 27, height: 10 }, style: { fill: '#fff', stroke: '#555', lineWidth: 1 } },
  txt(1527, 628, 'Auto', '#444', 'bold 8.5px ' + FONT),
  txt(773, 684, 'The rising VIX reflects elevated fear levels on Wall Street. SOURCE: Reuters Eikon', '#2a2a2a',
    'italic 26px Lato', { align: 'center' })
];

const tagStyle = {
  close: { bg: '#000', fg: '#fff' },
  sma100: { bg: '#ff3311', fg: '#222' },
  sma200: { bg: '#cccc00', fg: '#222' },
  sma50: { bg: '#66cc00', fg: '#222' }
};
let lastY = -Infinity;
markerValues
  .map((v, i) => ({ v, name: markerNames[i], y: chart.convertToPixel({ yAxisIndex: 0 }, v) }))
  .sort((a, b) => a.y - b.y)
  .forEach((m) => {
    const y = Math.max(m.y, lastY + 11);
    lastY = y;
    const s = tagStyle[m.name];
    graphics.push({ type: 'rect', silent: true, z: 96, shape: { x: 1520, y: y - 5.5, width: 36, height: 11 }, style: { fill: s.bg } });
    const label = txt(1522, y, m.v.toFixed(2), s.fg, 'bold 8.5px ' + FONT);
    label.z = 97;
    graphics.push(label);
  });

chart.setOption({ graphic: { elements: graphics } });
</script>
</body>
</html>
